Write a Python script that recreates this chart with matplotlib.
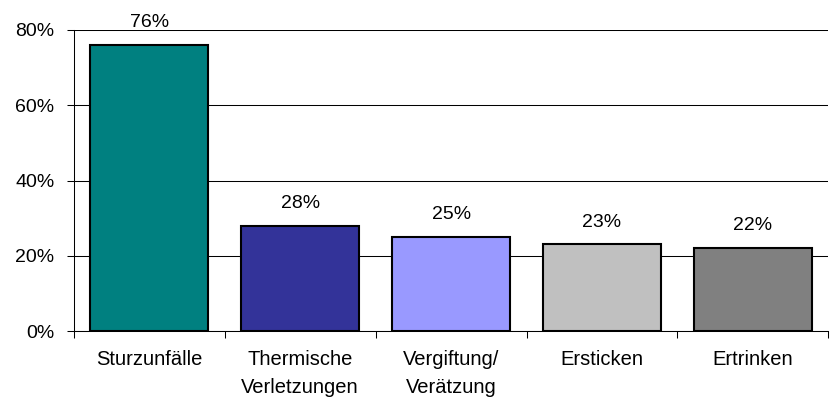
import matplotlib
matplotlib.use("Agg")
import matplotlib.pyplot as plt
from matplotlib.ticker import FuncFormatter, FixedLocator

plt.rcParams['font.family'] = ['Liberation Sans', 'DejaVu Sans']

categories = ['Sturzunfälle', 'Thermische\nVerletzungen', 'Vergiftung/\nVerätzung',
              'Ersticken', 'Ertrinken']
values = [76, 28, 25, 23, 22]
colors = ['#008080', '#333399', '#9999FF', '#C0C0C0', '#808080']

fig = plt.figure(figsize=(8.3, 4), dpi=100)
ax = fig.add_axes([0.089, 0.1725, 0.909, 0.7525])

x = range(len(categories))
ax.bar(x, values, width=0.78, color=colors, edgecolor='black', linewidth=1.5, zorder=3)

# value labels above bars
for xi, v in zip(x, values):
    ax.annotate(f'{v}%', xy=(xi, v), xytext=(0, 10), textcoords='offset points',
                ha='center', va='bottom', fontsize=14, zorder=4,
                annotation_clip=False)

ax.set_ylim(0, 80)
ax.set_xlim(-0.5, len(categories) - 0.5)
ax.set_yticks([0, 20, 40, 60, 80])
ax.yaxis.set_major_formatter(FuncFormatter(lambda v, p: f'{v:.0f}%'))
ax.grid(axis='y', color='black', linewidth=0.75, zorder=0)

ax.set_xticks(list(x))
ax.set_xticklabels(categories, linespacing=1.55)
ax.xaxis.set_minor_locator(FixedLocator([i - 0.5 for i in range(len(categories) + 1)]))
ax.tick_params(axis='x', which='major', length=0, pad=14, labelsize=14.5)
ax.tick_params(axis='x', which='minor', length=5, width=0.75, direction='out')
ax.tick_params(axis='y', length=5, width=0.75, direction='out', labelsize=14, pad=9)

for s in ['top', 'right']:
    ax.spines[s].set_visible(False)
ax.spines['left'].set_linewidth(0.75)
ax.spines['bottom'].set_linewidth(0.75)

fig.savefig('out.png', dpi=100)
